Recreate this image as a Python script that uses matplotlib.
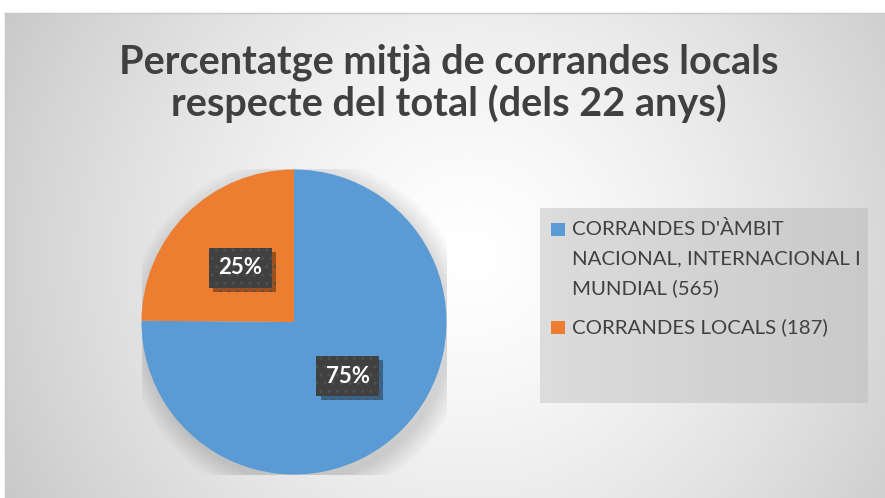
import numpy as np
import matplotlib
matplotlib.use("Agg")
import matplotlib.pyplot as plt
from matplotlib.patches import Circle, Rectangle
import matplotlib.patheffects as pe

# ---- data ----
categories = ["CORRANDES D'ÀMBIT\nNACIONAL, INTERNACIONAL I\nMUNDIAL (565)", "CORRANDES LOCALS (187)"]
counts = [565, 187]
colors = ["#5b9bd5", "#ed7d31"]
title_lines = ["Percentatge mitjà de corrandes locals", "respecte del total (dels 22 anys)"]

plt.rcParams['font.family'] = ['Lato', 'DejaVu Sans']
W, H = 885, 498
fig = plt.figure(figsize=(W / 100, H / 100), dpi=100)
fig.patch.set_facecolor("white")

# background (pixel coordinates)
bg = fig.add_axes([0, 0, 1, 1], zorder=-10)
bg.axis("off")
x0, x1, y0, y1 = 5, W, 13, H
xx, yy = np.meshgrid(np.linspace(x0, x1, 400), np.linspace(y0, y1, 240))
d = np.sqrt((xx - 470) ** 2 + ((yy - 255) * 1.0) ** 2) / 540
v = 1 - (1 - 0.78) * np.clip(d, 0, 1) ** 1.4
img = np.dstack([v, v, v])
bg.imshow(img, extent=(x0, x1, y1, y0), aspect="auto", interpolation="bilinear")
bg.plot([x0, x1], [y0, y0], color="#c8c8c8", lw=1.0)
bg.plot([x0, x0], [y0, y1], color="#c8c8c8", lw=1.0)

# legend box
lx0, lx1, ly0, ly1 = 540, 868, 208, 403
g = np.linspace(0.865, 0.79, 200)
limg = np.dstack([np.tile(g, (10, 1))] * 3)
bg.imshow(limg, extent=(lx0, lx1, ly1, ly0), aspect="auto", interpolation="bilinear")

# legend entries (pixel layout)
entry_top = [229, 327]
pitch = 29.5
for c, lab, ty in zip(colors, categories, entry_top):
    bg.add_patch(Rectangle((551, ty - 6.5), 14, 13, facecolor=c, edgecolor="none"))
    for k, line in enumerate(lab.split("\n")):
        bg.text(572, ty + k * pitch, line, ha="left", va="center", fontsize=14.7, color="#404040")
bg.set_xlim(0, W)
bg.set_ylim(H, 0)

# title
for line, by in zip(title_lines, [73, 116]):
    bg.text(W / 2 + 6, by, line, ha="center", va="baseline", fontsize=28.5, fontweight="bold",
            color="#404040")

# pie
cx, cy, r = 294, 322, 152.5
ax = fig.add_axes([(cx - r) / W, 1 - (cy + r) / H, 2 * r / W, 2 * r / H])
for i in range(12):
    ax.add_patch(Circle((0.03, -0.05), 1.0 + i * 0.012, color="black", alpha=0.012, lw=0, zorder=0))
wedges, texts, autotexts = ax.pie(counts, colors=colors, startangle=90, counterclock=False,
                                  autopct=lambda p: f"{p:.0f}%", pctdistance=0.5, radius=1,
                                  wedgeprops=dict(linewidth=0), frame=True)
ax.set_xlim(-1, 1)
ax.set_ylim(-1, 1)
ax.axis("off")
for t in autotexts:
    t.set_color("white")
    t.set_fontsize(16)
    t.set_fontweight("bold")
    t.set_bbox(dict(boxstyle="square,pad=0.42", facecolor="#404040", edgecolor="#505050",
                    hatch="..", linewidth=0))
    t.get_bbox_patch().set_path_effects([
        pe.SimplePatchShadow(offset=(3, -3), shadow_rgbFace="black", alpha=0.35), pe.Normal()])

fig.savefig("out.png", dpi=100, facecolor=fig.get_facecolor())
